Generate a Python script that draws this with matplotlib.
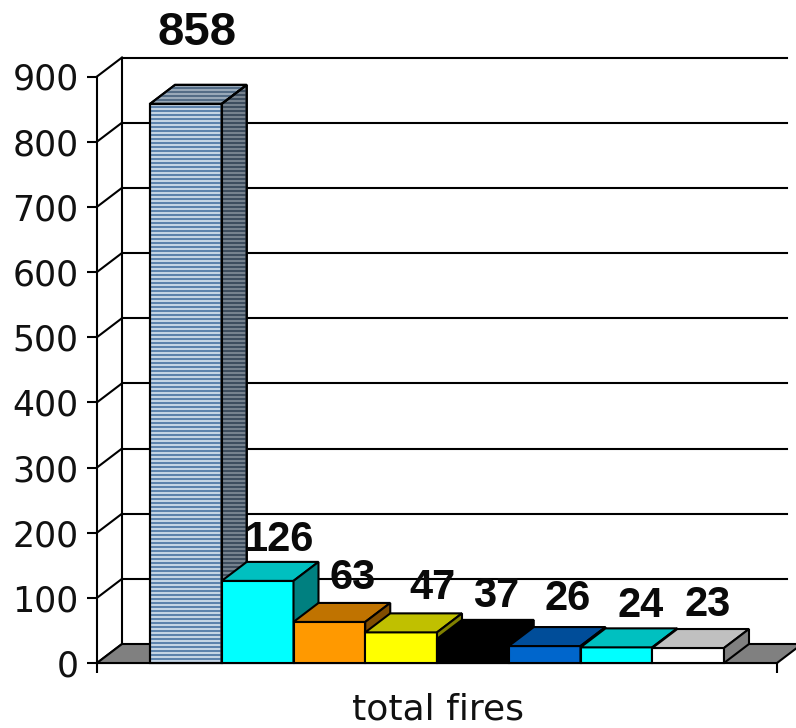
import numpy as np
import matplotlib
matplotlib.use('Agg')
import matplotlib.pyplot as plt
from matplotlib.patches import Polygon

values = [858, 126, 63, 47, 37, 26, 24, 23]
front_cols = ['#c4d4e4', '#00ffff', '#ff9900', '#ffff00', '#000000', '#0066cc', '#00ffff', '#ffffff']
top_cols = ['#98a8b8', '#00c0c0', '#c07300', '#c0c000', '#000000', '#004d99', '#00c0c0', '#c0c0c0']
side_cols = ['#76828e', '#008080', '#804d00', '#808000', '#000000', '#003366', '#008080', '#808080']
stripe_cols = ['#3d6a9c', '#3f5a78', '#2c3e50']
y_ticks = [0, 100, 200, 300, 400, 500, 600, 700, 800, 900]
x_label = 'total fires'

# label offset from top of bar front, in pixels
label_dx = [11, 21, 23, 31, 23, 23, 24, 20]
label_dy = [71, 41, 44, 44, 43, 47, 41, 43]
label_size = [34, 30, 30, 30, 30, 30, 30, 30]

W, H = 796, 728
PX_X = 71.75
PX_Y = 586.5 / 900
dx = 25 / PX_X
dy = 19 / PX_Y
lw = 1.5

fig = plt.figure(figsize=(W / 100, H / 100), dpi=100)
ax = fig.add_axes([97 / W, (H - 663) / H, 680 / W, 586.5 / H])
ax.set_xlim(-0.5 - 53 / PX_X, -0.5 - 53 / PX_X + 680 / PX_X)
ax.set_ylim(0, 900)
x0, x1 = ax.get_xlim()

for s in ['top', 'right']:
    ax.spines[s].set_visible(False)
for s in ['left', 'bottom']:
    ax.spines[s].set_linewidth(lw)
    ax.spines[s].set_zorder(1)

ax.set_yticks(y_ticks)
ax.set_xticks([x0, x1])
ax.set_xticklabels([])
ax.tick_params(axis='y', length=7.2, width=lw, labelsize=25, pad=6, labelcolor='#111111')
ax.tick_params(axis='x', length=7.2, width=lw)
for t in ax.get_yticklabels():
    t.set_family('DejaVu Sans')
ax.set_xlabel(x_label, fontsize=26, color='#111111', va='top')
ax.xaxis.set_label_coords(0.502, -0.05)


def face(pts, color, z, edge='black'):
    p = Polygon(pts, closed=True, facecolor=color, edgecolor=edge, linewidth=lw, zorder=z, clip_on=False)
    ax.add_patch(p)
    return p


def stripes(patch, ymin, ymax, color, z):
    # bitmap-like horizontal texture, 4 px period
    ys = np.arange(ymin, ymax, 4 / PX_Y)
    ls = ax.hlines(ys, x0, x1 + 1, colors=color, linewidth=1.1, zorder=z, clip_on=True)
    ls.set_clip_path(patch)


# floor
face([(x0, 0), (x0 + dx, dy), (x1 + dx, dy), (x1, 0)], '#808080', 1.5)

# back wall and side wall
for v in y_ticks:
    ax.plot([x0, x0 + dx], [v, v + dy], color='black', lw=lw, clip_on=False, zorder=1.2)
    if v > 0:
        ax.plot([x0 + dx, x1 + 10 / PX_X], [v + dy, v + dy], color='black', lw=lw, clip_on=False, zorder=1.2)
ax.plot([x0 + dx, x0 + dx], [dy, 900 + dy], color='black', lw=lw, clip_on=False, zorder=1.2)

for i, v in enumerate(values):
    z = 2 + i
    l, r = i - 0.5, i + 0.5
    fr = face([(l, 0), (r, 0), (r, v), (l, v)], front_cols[i], z)
    tp = face([(l, v), (r, v), (r + dx, v + dy), (l + dx, v + dy)], top_cols[i], z)
    sd = face([(r, 0), (r + dx, dy), (r + dx, v + dy), (r, v)], side_cols[i], z)
    if i == 0:
        stripes(fr, 0, v, stripe_cols[0], z + 0.1)
        stripes(tp, v, v + dy, stripe_cols[1], z + 0.1)
        stripes(sd, 0, v + dy, stripe_cols[2], z + 0.1)
        # outlines back over the texture
        for pts in (fr, tp, sd):
            pts2 = Polygon(pts.get_xy(), closed=True, fill=False, edgecolor='black', linewidth=lw, zorder=z + 0.2, clip_on=False)
            ax.add_patch(pts2)

for i, v in enumerate(values):
    ax.annotate(str(v), (i, v), xytext=(label_dx[i] * 0.72, label_dy[i] * 0.72), textcoords='offset points',
                ha='center', va='center', fontsize=label_size[i], fontweight='bold', family='Liberation Sans',
                color='#0a0a0a', zorder=20, annotation_clip=False)

fig.savefig('out.png', dpi=100)
